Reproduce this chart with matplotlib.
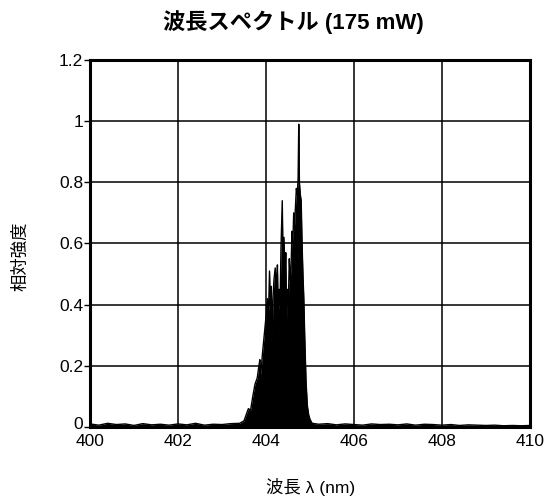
import matplotlib
matplotlib.use("Agg")
import matplotlib.pyplot as plt
import matplotlib.transforms as mtransforms

plt.rcParams['font.family'] = ['Liberation Sans', 'Noto Sans CJK JP', 'DejaVu Sans']

title = "波長スペクトル (175 mW)"
xlabel = "波長 λ (nm)"
ylabel = "相対強度"
xticks = [400, 402, 404, 406, 408, 410]
yticks = [0, 0.2, 0.4, 0.6, 0.8, 1.0, 1.2]
ytick_labels = ["0", "0.2", "0.4", "0.6", "0.8", "1", "1.2"]

wavelength = [
    400.00, 400.20, 400.40, 400.60, 400.80, 401.00, 401.20, 401.40, 401.60, 401.80,
    402.00, 402.20, 402.40, 402.60, 402.80, 403.00, 403.20, 403.40,
    403.50, 403.55, 403.60, 403.65, 403.70, 403.75, 403.80, 403.84, 403.86, 403.88,
    403.92, 403.96, 404.00, 404.03, 404.06, 404.08, 404.10, 404.12, 404.14, 404.16,
    404.18, 404.21, 404.24, 404.26, 404.28, 404.30, 404.32, 404.34, 404.37, 404.39,
    404.41, 404.43, 404.45, 404.47, 404.49, 404.51, 404.53, 404.55, 404.57, 404.59,
    404.61, 404.63, 404.65, 404.67, 404.69, 404.71, 404.73, 404.745, 404.76, 404.78,
    404.80, 404.82, 404.84, 404.86, 404.88, 404.91, 404.94, 404.97, 405.00, 405.05,
    405.20, 405.40, 405.60, 405.80, 406.00, 406.20, 406.40, 406.60, 406.80, 407.00,
    407.20, 407.40, 407.60, 407.80, 408.00, 408.20, 408.40, 408.60, 408.80, 409.00,
    409.20, 409.40, 409.60, 409.80, 410.00,
]
intensity = [
    0.010, 0.006, 0.012, 0.008, 0.010, 0.005, 0.011, 0.007, 0.009, 0.006,
    0.010, 0.007, 0.012, 0.006, 0.009, 0.008, 0.011, 0.012,
    0.020, 0.040, 0.060, 0.055, 0.100, 0.140, 0.160, 0.200, 0.220, 0.170,
    0.240, 0.300, 0.360, 0.420, 0.380, 0.510, 0.400, 0.460, 0.300, 0.420,
    0.480, 0.520, 0.440, 0.530, 0.360, 0.450, 0.400, 0.580, 0.740, 0.520,
    0.620, 0.500, 0.570, 0.350, 0.450, 0.420, 0.550, 0.480, 0.520, 0.640,
    0.600, 0.700, 0.660, 0.720, 0.780, 0.760, 0.810, 0.990, 0.800, 0.760,
    0.740, 0.600, 0.500, 0.420, 0.300, 0.150, 0.070, 0.040, 0.025, 0.012,
    0.009, 0.011, 0.007, 0.010, 0.008, 0.006, 0.010, 0.008, 0.009, 0.007,
    0.010, 0.006, 0.009, 0.008, 0.006, 0.008, 0.005, 0.007, 0.006, 0.005,
    0.006, 0.004, 0.005, 0.004, 0.005,
]

fig = plt.figure(figsize=(5.5, 4.99), dpi=100)
ax = fig.add_axes([0.1636, 0.1443, 0.8, 0.7355])

ax.fill_between(wavelength, 0, intensity, color='black', linewidth=0)
ax.plot(wavelength, intensity, color='black', linewidth=1.0)

ax.set_xlim(400, 410)
ax.set_ylim(0, 1.2)
ax.set_xticks(xticks)
ax.set_yticks(yticks)
ax.set_yticklabels(ytick_labels)
ax.grid(True, color='black', linewidth=1.1)
ax.set_axisbelow(False)
for s in ax.spines.values():
    s.set_linewidth(2.2)
ax.tick_params(axis='both', direction='out', length=4, width=1, labelsize=12.5,
               colors='black', pad=1)
ax.tick_params(axis='x', length=0, pad=5)

# nudge the "0" label up slightly so it only touches the "400" label
zero_lbl = ax.get_yticklabels()[0]
zero_lbl.set_transform(zero_lbl.get_transform() +
                       mtransforms.ScaledTranslation(0, 3 / 72, fig.dpi_scale_trans))

fig.text(0.533, 0.955, title, ha='center', va='center', fontsize=16, fontweight='bold')
fig.text(0.564, 0.025, xlabel, ha='center', va='center', fontsize=12.5)
fig.text(0.037, 0.487, ylabel, ha='center', va='center', fontsize=12.5, rotation=90)

fig.savefig("out.png", dpi=100)
